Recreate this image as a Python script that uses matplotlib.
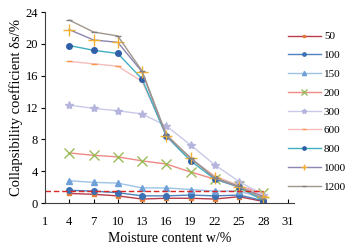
import matplotlib.pyplot as plt

plt.rcParams['font.family'] = ['Liberation Serif', 'DejaVu Serif']

moisture = [4, 7, 10, 13, 16, 19, 22, 25, 28]
labels = ['50', '100', '150', '200', '300', '600', '800', '1000', '1200']
s50 = [1.2, 1.1, 0.9, 0.5, 0.6, 0.6, 0.5, 0.8, 0.2]
s100 = [1.6, 1.5, 1.3, 0.9, 0.9, 1.0, 0.9, 1.0, 0.3]
s150 = [2.8, 2.6, 2.5, 1.9, 1.9, 1.7, 1.5, 1.5, 0.6]
s200 = [6.3, 6.0, 5.8, 5.3, 4.9, 3.9, 3.0, 2.1, 1.3]
s300 = [12.3, 11.9, 11.6, 11.2, 9.7, 7.3, 4.8, 2.7, 1.0]
s600 = [17.8, 17.5, 17.2, 15.3, 8.6, 5.6, 3.4, 2.2, 0.9]
s800 = [19.8, 19.2, 18.8, 15.6, 8.4, 5.3, 3.0, 2.0, 0.3]
s1000 = [21.8, 20.5, 20.2, 16.5, 8.4, 5.7, 3.1, 2.0, 0.8]
s1200 = [23.0, 21.5, 21.0, 16.6, 8.6, 5.6, 3.2, 2.1, 0.5]
threshold = 1.5

series = [s50, s100, s150, s200, s300, s600, s800, s1000, s1200]
line_colors = ['#b83a4b', '#4f81bd', '#9dc3e6', '#ee8a84', '#c9c9e8',
               '#f5bcbc', '#3fb0c0', '#8a86b0', '#a0968a']
mark_colors = ['#e07b39', '#3a70b5', '#6fa0d8', '#9bbb59', '#b4b4dc',
               '#f79646', '#2e5fa8', '#f0b030', '#808080']
markers = ['s', 'o', '^', 'x', '*', '_', 'o', '+', '_']
msizes = [3, 4, 5, 7, 6, 4, 4, 8, 5]

fig = plt.figure(figsize=(3.46, 2.47), dpi=100)
ax = fig.add_axes([0.13, 0.178, 0.72, 0.773])

handles = []
for ys, lab, lc, mc, m, ms in zip(series, labels, line_colors, mark_colors, markers, msizes):
    h, = ax.plot(moisture, ys, color=lc, lw=1.0, marker=m, markersize=ms,
                 markerfacecolor=mc, markeredgecolor=mc, markeredgewidth=1.0, label=lab)
    handles.append(h)

ax.plot([1, 28], [threshold, threshold], color='#d82828', lw=1.0, ls='--', dashes=(4, 2))

ax.set_xlim(1, 31.8)
ax.set_ylim(0, 24)
ax.set_xticks(range(1, 32, 3))
ax.set_yticks(range(0, 25, 4))
ax.tick_params(axis='x', direction='in', length=3, labelsize=9, pad=9, color='black')
ax.tick_params(axis='y', direction='out', length=3, labelsize=9, pad=2)
for sp in ['top', 'right']:
    ax.spines[sp].set_visible(False)
ax.spines['left'].set_color('#404040')
ax.spines['bottom'].set_color('#404040')

ax.set_xlabel('Moisture content w/%', fontsize=10, labelpad=3)
ax.set_ylabel('Collapsibility coefficient δs/%', fontsize=10.5, labelpad=2)

fig.legend(handles=handles, loc='upper left', bbox_to_anchor=(0.819, 0.89),
           frameon=False, fontsize=8, handlelength=3.0, handletextpad=0.25,
           labelspacing=0.81, borderaxespad=0, markerscale=0.6)

fig.savefig('out.png', dpi=100)
